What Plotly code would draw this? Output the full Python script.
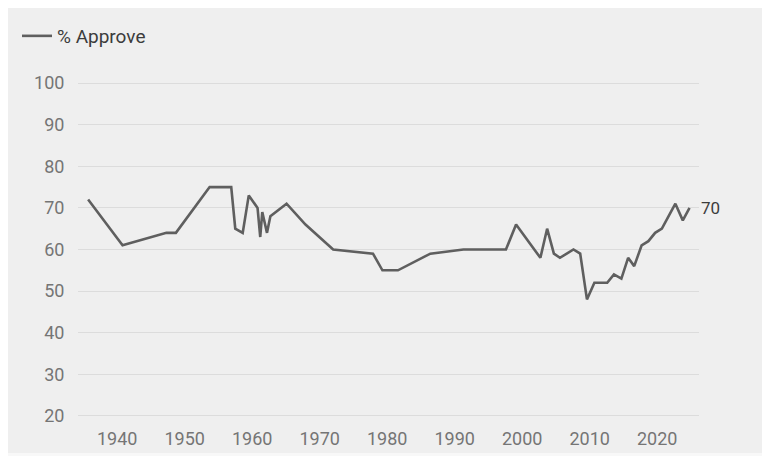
import plotly.graph_objects as go

years = [1935.7, 1940.8, 1947.3, 1948.7, 1953.7, 1956.9, 1957.5, 1958.6, 1959.5,
         1960.8, 1961.2, 1961.5, 1962.2, 1962.7, 1965.1, 1967.9, 1972.0, 1977.9,
         1979.3, 1981.6, 1986.4, 1991.3, 1997.6, 1999.1, 2002.7, 2003.7, 2004.7,
         2005.6, 2007.6, 2008.6, 2009.6, 2010.7, 2012.6, 2013.6, 2014.7, 2015.7,
         2016.6, 2017.7, 2018.7, 2019.7, 2020.7, 2021.7, 2022.7, 2023.8, 2024.8]
approve = [72, 61, 64, 64, 75, 75, 65, 64, 73,
           70, 63, 69, 64, 68, 71, 66, 60, 59,
           55, 55, 59, 60, 60, 66, 58, 65, 59,
           58, 60, 59, 48, 52, 52, 54, 53, 58,
           56, 61, 62, 64, 65, 68, 71, 67, 70]
series_name = "% Approve"
x_ticks = [1940, 1950, 1960, 1970, 1980, 1990, 2000, 2010, 2020]
y_ticks = [20, 30, 40, 50, 60, 70, 80, 90, 100]

# the page has an 8px body margin, so the figure is drawn 8px in from the window corner
W, H = 762, 448
L, R, T, B = 70, 71, 73, 38
pw, ph = W - L - R, H - T - B

fig = go.Figure()
fig.add_trace(go.Scatter(x=years, y=approve, mode="lines", name=series_name,
                         line=dict(color="#5f5f5f", width=2.6)))

fig.add_annotation(x=years[-1], y=approve[-1], text=str(approve[-1]),
                   showarrow=False, xanchor="left", xshift=9,
                   font=dict(family="Roboto", size=17, color="#3c3c3c"))

fig.add_shape(type="rect", xref="paper", yref="paper",
              x0=-L / pw, x1=(756 - L) / pw,
              y0=-(445 - (H - B)) / ph, y1=1 + T / ph,
              fillcolor="#efefef", line=dict(width=0), layer="below")

fig.update_layout(
    width=W, height=H,
    margin=dict(l=L, r=R, t=T, b=B, autoexpand=False),
    paper_bgcolor="#f8f8f8",
    plot_bgcolor="rgba(0,0,0,0)",
    font=dict(family="Roboto", color="#757575", size=18),
    showlegend=True,
    legend=dict(x=(9 - L) / pw, y=1 + (T - 28) / ph,
                xanchor="left", yanchor="middle",
                bgcolor="rgba(0,0,0,0)", itemwidth=30,
                font=dict(family="Roboto", size=19, color="#3c3c3c")),
    xaxis=dict(range=[1934.2, 2026.2], tickvals=x_ticks, showgrid=False,
               zeroline=False, showline=False, ticks="outside", ticklen=4,
               tickcolor="rgba(0,0,0,0)"),
    yaxis=dict(range=[19.5, 100.5], tickvals=y_ticks, showgrid=True,
               gridcolor="#dcdcdc", gridwidth=1.2, zeroline=False,
               showline=False, ticks="outside", ticklen=9,
               tickcolor="rgba(0,0,0,0)"),
)

fig.write_html("out.html")
